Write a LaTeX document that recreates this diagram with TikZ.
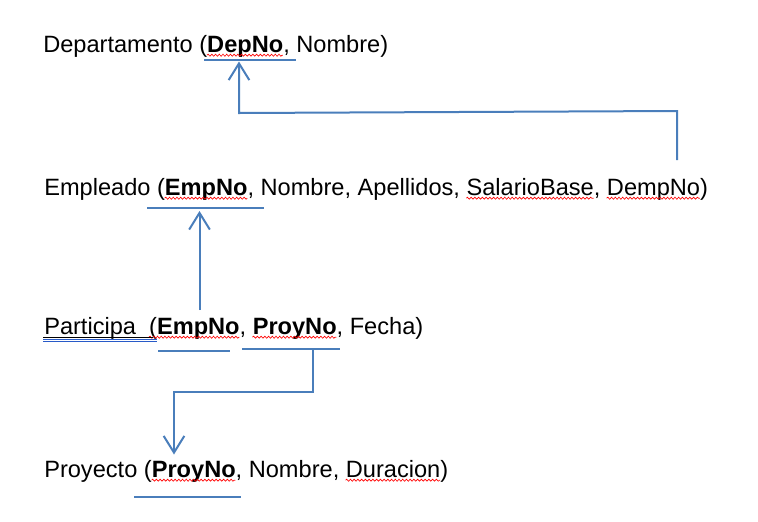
\documentclass[tikz,border=0pt]{standalone}
\usepackage{fontspec}
\setmainfont{Liberation Sans}
\usetikzlibrary{arrows.meta,decorations.pathmorphing}
\definecolor{lineblue}{RGB}{74,126,187}
\definecolor{gramblue}{RGB}{40,90,200}
\newsavebox\rwbox
\newcommand\rw[1]{\sbox\rwbox{#1}\usebox\rwbox\llap{\tikz[x=1pt,y=1pt,baseline=0pt]\draw[red,line width=0.5pt,decorate,decoration={snake,amplitude=0.75pt,segment length=2.8pt}] (0,-2.4) -- (\wd\rwbox,-2.4);}}
\begin{document}
\begin{tikzpicture}[x=0.75pt,y=-0.75pt,
  reltext/.style={anchor=base west,inner sep=0pt,font=\fontsize{17.7}{21}\selectfont},
  keyline/.style={draw=lineblue,line width=1.5pt},
  conn/.style={draw=lineblue,line width=1.5pt,line join=miter},
  connarrow/.style={conn,-{Straight Barb[length=12.5pt,width=15.5pt,line width=1.5pt]}},
  gram/.style={draw=gramblue,line width=0.6pt}]
\useasboundingbox (0,0) rectangle (758,522);
% relations
\node[reltext] (dep) at (43,52) {Departamento (\rw{\textbf{DepNo}}, Nombre)};
\node[reltext] (emp) at (44,195) {Empleado (\rw{\textbf{EmpNo}}, Nombre, Apellidos, \rw{SalarioBase}, \rw{DempNo})};
\node[reltext] (par) at (44,334) {Participa\ \ \rw{(\textbf{EmpNo}}, \rw{\textbf{ProyNo}}, Fecha)};
\node[reltext] (pro) at (44,477) {Proyecto (\rw{\textbf{ProyNo}}, Nombre, \rw{Duracion})};
% Participa underline (black) and grammar double line
\coordinate (pu1) at (43,337.6);
\coordinate (pu2) at (153,337.6);
\draw[black,line width=0.7pt] (pu1) -- (pu2);
\coordinate (pg1) at (43,339.2);
\coordinate (pg2) at (157,339.2);
\coordinate (pg3) at (43,341.2);
\coordinate (pg4) at (157,341.2);
\draw[gram] (pg1) -- (pg2);
\draw[gram] (pg3) -- (pg4);
% key underlines
\coordinate (depA) at (204,59.5);  \coordinate (depB) at (296,59.5);
\coordinate (empA) at (147,207.7); \coordinate (empB) at (264,207.7);
\coordinate (parA) at (158,350.7); \coordinate (parB) at (230,350.7);
\coordinate (parC) at (242,348.7); \coordinate (parD) at (340,348.7);
\coordinate (proA) at (134,497);   \coordinate (proB) at (241,497);
\draw[keyline] (depA) -- (depB);
\draw[keyline] (empA) -- (empB);
\draw[keyline] (parA) -- (parB);
\draw[keyline] (parC) -- (parD);
\draw[keyline] (proA) -- (proB);
% connectors
\coordinate (dempno) at (677,160);
\coordinate (c1) at (677,111);
\coordinate (c2) at (239,113);
\coordinate (depkey) at (239,61.5);
\draw[connarrow] (dempno) -- (c1) -- (c2) -- (depkey);
\coordinate (parEmp) at (199.5,310);
\coordinate (empkey) at (199.5,211);
\draw[connarrow] (parEmp) -- (empkey);
\coordinate (parProy) at (312.5,348.7);
\coordinate (c3) at (312.5,391.5);
\coordinate (c4) at (174,391.5);
\coordinate (prokey) at (174,454.5);
\draw[connarrow] (parProy) -- (c3) -- (c4) -- (prokey);
\end{tikzpicture}
\end{document}
